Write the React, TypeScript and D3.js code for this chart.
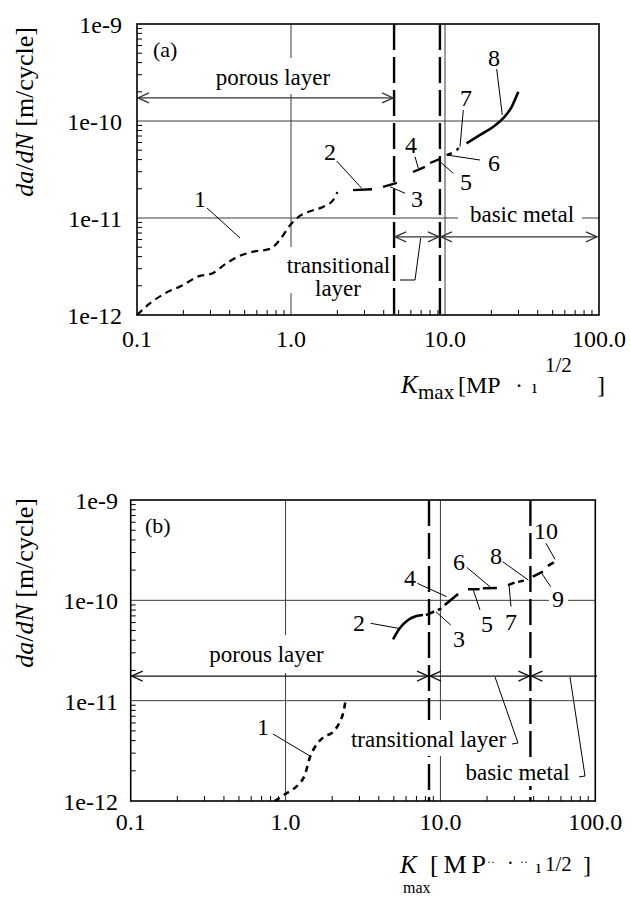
import React from "react";
import * as d3 from "d3";

type Pt = [number, number];

// ---------- axis ticks ----------
const xTickValues = [0.1, 1, 10, 100];
const xTickLabels = ["0.1", "1.0", "10.0", "100.0"];
const yTickValues = [1e-9, 1e-10, 1e-11, 1e-12];
const yTickLabels = ["1e-9", "1e-10", "1e-11", "1e-12"];
const gridX = [1, 10];
const gridY = [1e-10, 1e-11];

// ---------- panel (a) data: [Kmax, da/dN] ----------
const curveA1: Pt[] = [
  [0.1, 1.0e-12], [0.12, 1.3e-12], [0.155, 1.7e-12], [0.195, 2.0e-12], [0.25, 2.5e-12],
  [0.31, 2.7e-12], [0.38, 3.4e-12], [0.47, 4.1e-12], [0.57, 4.5e-12], [0.73, 4.8e-12],
  [0.85, 6.0e-12], [0.99, 8.5e-12], [1.14, 1.05e-11], [1.39, 1.2e-11], [1.61, 1.3e-11],
  [1.87, 1.52e-11], [2.0, 1.85e-11],
];
const curveA2: Pt[] = [[2.53, 1.94e-11], [3.36, 1.98e-11]];
const curveA3: Pt[] = [[3.96, 2.09e-11], [4.87, 2.3e-11]];
const curveA4: Pt[] = [[6.2, 2.98e-11], [7.41, 3.36e-11]];
const curveA5: Pt[] = [[8.0, 3.69e-11], [9.29, 4.06e-11]];
const curveA6: Pt[] = [[10.26, 4.46e-11], [11.07, 4.67e-11]];
const curveA7: Pt[] = [[11.9, 5.0e-11], [12.5, 5.43e-11]];
const curveA8: Pt[] = [
  [13.8, 5.89e-11], [16.9, 7.18e-11], [20.6, 8.74e-11], [23.9, 1.07e-10], [27.1, 1.4e-10], [29.9, 2.0e-10],
];
const boundariesA = [4.67, 9.27];
const arrowLevelsA = [1.73e-10, 6.4e-12];

// ---------- panel (b) data ----------
const curveB1: Pt[] = [
  [0.85, 1.0e-12], [1.01, 1.19e-12], [1.2, 1.44e-12], [1.33, 1.81e-12], [1.44, 2.76e-12],
  [1.55, 3.47e-12], [1.75, 4.3e-12], [2.03, 4.9e-12], [2.24, 6.16e-12], [2.38, 8.05e-12], [2.45, 1.05e-11],
];
const curveB2: Pt[] = [[4.94, 4.08e-11], [5.46, 5.26e-11], [6.18, 6.37e-11], [7.0, 6.97e-11], [7.72, 7.13e-11]];
const curveB3: Pt[] = [[8.06, 7.13e-11], [10.15, 8.31e-11]];
const curveB4: Pt[] = [[10.66, 8.97e-11], [13.0, 1.156e-10]];
const curveB5: Pt[] = [[15.07, 1.29e-10], [17.9, 1.29e-10]];
const curveB6: Pt[] = [[18.8, 1.32e-10], [24.1, 1.33e-10]];
const curveB7: Pt[] = [[27.3, 1.42e-10], [30.1, 1.5e-10]];
const curveB8: Pt[] = [[31.7, 1.53e-10], [35.9, 1.59e-10]];
const curveB9: Pt[] = [[39.5, 1.72e-10], [45.9, 1.93e-10]];
const curveB10: Pt[] = [[49.4, 2.2e-10], [56.0, 2.48e-10]];
const boundariesB = [8.44, 38.1];
const arrowLevelB = 1.76e-11;

const FONT = '"Liberation Serif", "Times New Roman", "DejaVu Serif", serif';
const TS: React.CSSProperties = { fontFamily: FONT };

function minorValues(lo: number, hi: number): number[] {
  const out: number[] = [];
  for (let e = lo; e < hi; e++) for (let k = 2; k <= 9; k++) out.push(k * Math.pow(10, e));
  return out;
}
const xMinor = minorValues(-1, 2);
const yMinor = minorValues(-12, -9);

function headL(tx: number, ty: number) {
  return `M${tx + 11},${ty - 5} L${tx},${ty} L${tx + 11},${ty + 5}`;
}
function headR(tx: number, ty: number) {
  return `M${tx - 11},${ty - 5} L${tx},${ty} L${tx - 11},${ty + 5}`;
}

type Sc = d3.ScaleLogarithmic<number, number>;

function T(props: any) {
  const { style, ...rest } = props;
  return <text {...rest} style={{ ...TS, ...(style || {}) }} />;
}

function Grid({ x, y }: { x: Sc; y: Sc }) {
  const [xl, xr] = x.range();
  const [yb, yt] = y.range();
  return (
    <g stroke="#3a3a3a" strokeWidth={1}>
      {gridX.map((v) => (
        <line key={"gx" + v} x1={x(v)} x2={x(v)} y1={yt} y2={yb} />
      ))}
      {gridY.map((v) => (
        <line key={"gy" + v} x1={xl} x2={xr} y1={y(v)} y2={y(v)} />
      ))}
    </g>
  );
}

function Frame({ x, y, xLabelBaseline, yLabelRight }: { x: Sc; y: Sc; xLabelBaseline: number; yLabelRight: number }) {
  const [xl, xr] = x.range();
  const [yb, yt] = y.range();
  return (
    <g>
      <g stroke="#000" strokeWidth={1}>
        {xMinor.map((v, i) => (
          <line key={"xm" + i} x1={x(v)} x2={x(v)} y1={yb} y2={yb - 5} />
        ))}
        {yMinor.map((v, i) => (
          <line key={"ym" + i} x1={xl} x2={xl + 5} y1={y(v)} y2={y(v)} />
        ))}
      </g>
      <rect x={xl} y={yt} width={xr - xl} height={yb - yt} fill="none" stroke="#000" strokeWidth={1.6} />
      <g fill="#000">
        {xTickValues.map((v, i) => (
          <T key={"xl" + i} x={x(v)} y={xLabelBaseline} textAnchor="middle" fontSize={24}>
            {xTickLabels[i]}
          </T>
        ))}
        {yTickValues.map((v, i) => (
          <T key={"yl" + i} x={yLabelRight} y={y(v) + 9} textAnchor="end" fontSize={24}>
            {yTickLabels[i]}
          </T>
        ))}
      </g>
    </g>
  );
}

function curvePath(x: Sc, y: Sc, d: Pt[]) {
  return (
    d3
      .line<Pt>()
      .x((p) => x(p[0]))
      .y((p) => y(p[1]))
      .curve(d3.curveMonotoneX)(d) || ""
  );
}

type CurveSpec = { d: Pt[]; dash?: string; w: number };

export default function App() {
  const xA = d3.scaleLog().domain([0.1, 100]).range([137, 599]);
  const yA = d3.scaleLog().domain([1e-12, 1e-9]).range([315, 24]);
  const xB = d3.scaleLog().domain([0.1, 100]).range([130.7, 595.3]);
  const yB = d3.scaleLog().domain([1e-12, 1e-9]).range([801, 500]);

  const curvesA: CurveSpec[] = [
    { d: curveA1, dash: "7,5", w: 2.2 },
    { d: curveA2, w: 2.4 },
    { d: curveA3, w: 2.4 },
    { d: curveA4, w: 2.4 },
    { d: curveA5, w: 2.4 },
    { d: curveA6, w: 2.4 },
    { d: curveA7, dash: "3,4", w: 2.4 },
    { d: curveA8, w: 2.6 },
  ];
  const curvesB: CurveSpec[] = [
    { d: curveB1, dash: "6,5", w: 2.6 },
    { d: curveB2, w: 2.6 },
    { d: curveB3, dash: "9,4", w: 2.6 },
    { d: curveB4, w: 2.6 },
    { d: curveB5, w: 2.4 },
    { d: curveB6, dash: "14,4", w: 2.4 },
    { d: curveB7, dash: "8,4", w: 2.4 },
    { d: curveB8, dash: "6,4", w: 2.4 },
    { d: curveB9, w: 2.6 },
    { d: curveB10, dash: "7,4", w: 2.6 },
  ];

  const labelsA: [string, number, number, number[]][] = [
    ["1", 200, 207, [207, 208, 240, 238]],
    ["2", 330, 160, [336.7, 161, 361.7, 188.3]],
    ["3", 417, 207, [405, 193.3, 390, 186.7]],
    ["4", 411, 153, [415, 156.7, 418.3, 168.3]],
    ["5", 466, 190, [453.3, 173.3, 440, 161.7]],
    ["6", 494, 171, [480, 160, 446.7, 155]],
    ["7", 466, 106, [463.3, 110, 460, 146.7]],
    ["8", 494, 66, [496.7, 69, 502.3, 115]],
  ];
  const labelsB: [string, number, number, number[]][] = [
    ["1", 263, 735, [273, 734, 310, 756]],
    ["2", 359, 631, [370.7, 623.3, 398.3, 628.3]],
    ["3", 459, 647, [450.7, 625, 436, 611.7]],
    ["4", 410, 586, [417.3, 583.3, 446.7, 596.7]],
    ["5", 487, 632, [480, 610, 473.3, 590]],
    ["6", 459, 570, [466.7, 567.3, 490, 586.7]],
    ["7", 511, 630, [511, 606.7, 509, 585]],
    ["8", 496, 564, [502.7, 561.7, 528.3, 580]],
    ["9", 558, 607, [550.7, 586.7, 541.7, 573.3]],
    ["10", 546, 539, [546, 543.3, 555, 559.3]],
  ];

  const [bA1, bA2] = boundariesA.map((v) => xA(v));
  const [bB1, bB2] = boundariesB.map((v) => xB(v));
  const arA1 = yA(arrowLevelsA[0]);
  const arA2 = yA(arrowLevelsA[1]);
  const arB = yB(arrowLevelB);

  return (
    <svg width={631} height={897} style={{ position: "absolute", left: 0, top: 0, background: "#fff" }}>
      <rect x={0} y={0} width={631} height={897} fill="#fff" />

      {/* ================= Panel (a) ================= */}
      <Grid x={xA} y={yA} />
      {[bA1, bA2].map((bx, i) => (
        <line key={"ba" + i} x1={bx} x2={bx} y1={24} y2={315} stroke="#000" strokeWidth={2.4} strokeDasharray="26,7" />
      ))}
      <rect x={210} y={58} width={125} height={36} fill="#fff" />
      <rect x={284} y={247} width={106} height={46} fill="#fff" />
      <rect x={458} y={205} width={124} height={25} fill="#fff" />
      {curvesA.map((c, i) => (
        <path key={"ca" + i} d={curvePath(xA, yA, c.d)} fill="none" stroke="#000" strokeWidth={c.w} strokeDasharray={c.dash} />
      ))}
      <g stroke="#333" strokeWidth={1.3} fill="none">
        <line x1={137} x2={bA1} y1={arA1} y2={arA1} />
        <path d={headL(138, arA1)} />
        <path d={headR(bA1 - 1, arA1)} />
        <line x1={bA1} x2={bA2} y1={arA2} y2={arA2} />
        <path d={headL(bA1 + 1, arA2)} />
        <path d={headR(bA2 - 1, arA2)} />
        <line x1={bA2} x2={597} y1={arA2} y2={arA2} />
        <path d={headL(bA2 + 1, arA2)} />
        <path d={headR(597, arA2)} />
      </g>
      <g stroke="#000" strokeWidth={1} fill="none">
        <path d="M420.7,238 L415,280 L400,280" />
        {labelsA.map((l, i) => (
          <line key={"la" + i} x1={l[3][0]} y1={l[3][1]} x2={l[3][2]} y2={l[3][3]} />
        ))}
      </g>
      <g fill="#000">
        <T x={153} y={57} fontSize={22}>(a)</T>
        <T x={273} y={85} textAnchor="middle" fontSize={23}>porous layer</T>
        <T x={338.5} y={273} textAnchor="middle" fontSize={23}>transitional</T>
        <T x={338} y={296} textAnchor="middle" fontSize={23}>layer</T>
        <T x={522} y={222} textAnchor="middle" fontSize={23}>basic metal</T>
        {labelsA.map((l, i) => (
          <T key={"ta" + i} x={l[1]} y={l[2]} textAnchor="middle" fontSize={24}>{l[0]}</T>
        ))}
      </g>
      <Frame x={xA} y={yA} xLabelBaseline={347} yLabelRight={122} />
      <T transform="translate(33,112) rotate(-90)" textAnchor="middle" fontSize={26} fill="#000">
        <tspan fontStyle="italic">da</tspan>/<tspan fontStyle="italic">dN</tspan> [m/cycle]
      </T>
      <g fill="#000">
        <T x={401} y={393} fontSize={25} fontStyle="italic">K</T>
        <T x={418} y={399} fontSize={21}>max</T>
        <T x={458} y={393} fontSize={24}>[MP</T>
        <T x={515} y={393} fontSize={24}>·</T>
        <T x={532} y={393} fontSize={18}>ı</T>
        <T x={545} y={372} fontSize={21}>1/2</T>
        <T x={597} y={393} fontSize={24}>]</T>
      </g>

      {/* ================= Panel (b) ================= */}
      <Grid x={xB} y={yB} />
      {[bB1, bB2].map((bx, i) => (
        <line key={"bb" + i} x1={bx} x2={bx} y1={500} y2={801} stroke="#000" strokeWidth={2.4} strokeDasharray="26,7" />
      ))}
      <rect x={207} y={635} width={119} height={38} fill="#fff" />
      <rect x={349} y={720} width={160} height={36} fill="#fff" />
      <rect x={465} y={757} width={107} height={29} fill="#fff" />
      <rect x={549} y={588} width={19} height={24} fill="#fff" />
      {curvesB.map((c, i) => (
        <path key={"cb" + i} d={curvePath(xB, yB, c.d)} fill="none" stroke="#000" strokeWidth={c.w} strokeDasharray={c.dash} />
      ))}
      <g stroke="#111" strokeWidth={1.3} fill="none">
        <line x1={130.7} x2={bB1} y1={arB} y2={arB} />
        <path d={headL(131.7, arB)} />
        <path d={headR(bB1 - 1, arB)} />
        <line x1={bB1} x2={bB2} y1={arB} y2={arB} />
        <path d={headL(bB1 + 1, arB)} />
        <path d={headR(bB2 - 1, arB)} />
        <line x1={bB2} x2={597} y1={arB} y2={arB} />
        <path d={headL(bB2 + 1, arB)} />
      </g>
      <g stroke="#000" strokeWidth={1} fill="none">
        <path d="M495,677 L518,743 L512,744" />
        <path d="M570,677 L585,776 L579,777" />
        {labelsB.map((l, i) => (
          <line key={"lb" + i} x1={l[3][0]} y1={l[3][1]} x2={l[3][2]} y2={l[3][3]} />
        ))}
      </g>
      <g fill="#000">
        <T x={145} y={533} fontSize={22}>(b)</T>
        <T x={266.5} y={662} textAnchor="middle" fontSize={23}>porous layer</T>
        <T x={428.5} y={747} textAnchor="middle" fontSize={23}>transitional layer</T>
        <T x={517.5} y={780} textAnchor="middle" fontSize={23}>basic metal</T>
        {labelsB.map((l, i) => (
          <T key={"tb" + i} x={l[1]} y={l[2]} textAnchor="middle" fontSize={24}>{l[0]}</T>
        ))}
      </g>
      <Frame x={xB} y={yB} xLabelBaseline={830} yLabelRight={118} />
      <T transform="translate(33,583) rotate(-90)" textAnchor="middle" fontSize={26} fill="#000">
        <tspan fontStyle="italic">da</tspan>/<tspan fontStyle="italic">dN</tspan> [m/cycle]
      </T>
      <g fill="#000">
        <T x={400} y={873} fontSize={25} fontStyle="italic">K</T>
        <T x={403} y={893} fontSize={16}>max</T>
        <T x={430} y={873} fontSize={26} textLength={56} lengthAdjust="spacing">[MP</T>
        <T x={487} y={866} fontSize={12}>··</T>
        <T x={507} y={870} fontSize={20}>·</T>
        <T x={520} y={866} fontSize={12}>··</T>
        <T x={536} y={873} fontSize={18}>ı</T>
        <T x={545} y={871} fontSize={21}>1/2</T>
        <T x={583} y={873} fontSize={24}>]</T>
      </g>
    </svg>
  );
}
